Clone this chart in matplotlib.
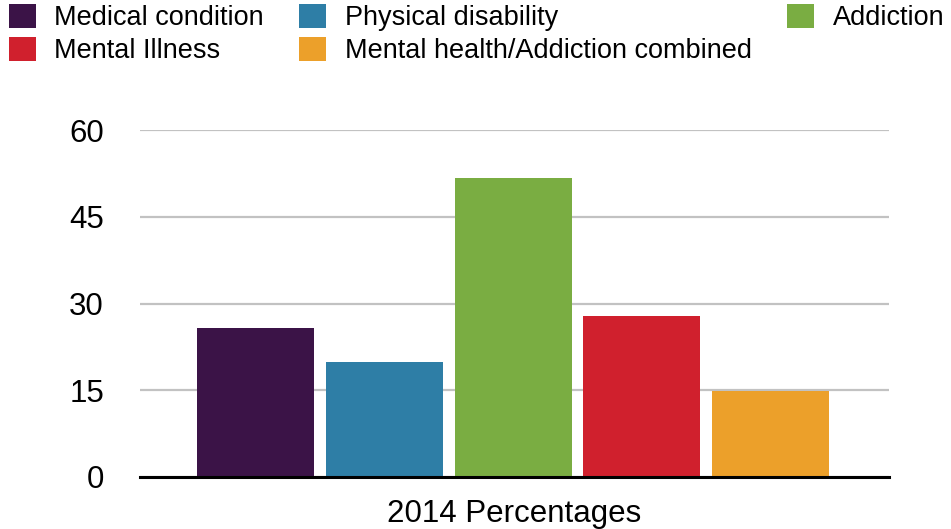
import matplotlib
matplotlib.use("Agg")
import matplotlib.pyplot as plt
from matplotlib.patches import Patch

plt.rcParams['font.family'] = ['Liberation Sans', 'DejaVu Sans']

# Data
categories = ["Medical condition", "Physical disability", "Addiction",
              "Mental Illness", "Mental health/Addiction combined"]
values = [25.7, 19.8, 51.7, 27.8, 14.8]
colors = ["#3B1347", "#2E7EA6", "#7AAD42", "#D0202D", "#ECA02A"]
yticks = [0, 15, 30, 45, 60]
xlabel = "2014 Percentages"

fig = plt.figure(figsize=(9.51, 5.29), dpi=100)
ax = fig.add_axes([140 / 951, 1 - 477 / 529, (889 - 140) / 951, (477 - 130) / 529])

x = range(len(values))
ax.bar(x, values, width=0.91, color=colors, zorder=3)

ax.set_xlim(-0.9, 4.92)
ax.set_ylim(0, 60)
ax.set_yticks(yticks)
ax.set_yticklabels([str(t) for t in yticks], fontsize=22.5)
ax.tick_params(axis='y', length=0, pad=26)
ax.set_xticks([])
ax.yaxis.grid(True, color="#C2C2C2", linewidth=1.6, zorder=0)
ax.set_axisbelow(True)

for s in ["left", "right", "top"]:
    ax.spines[s].set_visible(False)
ax.spines["bottom"].set_color("black")
ax.spines["bottom"].set_linewidth(2.2)
ax.spines["bottom"].set_zorder(4)

ax.set_xlabel(xlabel, fontsize=22.5, labelpad=16)

# Legend: filled column-wise, so order handles to get the rows right
order = [0, 3, 1, 4, 2]
handles = [Patch(facecolor=colors[i], edgecolor='none') for i in order]
labels = [categories[i] for i in order]
fig.legend(handles, labels, loc="upper left", bbox_to_anchor=(9 / 951, 1 - 4 / 529),
           ncol=3, frameon=False, fontsize=19.5, borderpad=0, borderaxespad=0,
           handlelength=1.0, handleheight=1.0, handletextpad=0.68,
           columnspacing=1.3, labelspacing=0.2)

fig.savefig("out.png", dpi=100)
